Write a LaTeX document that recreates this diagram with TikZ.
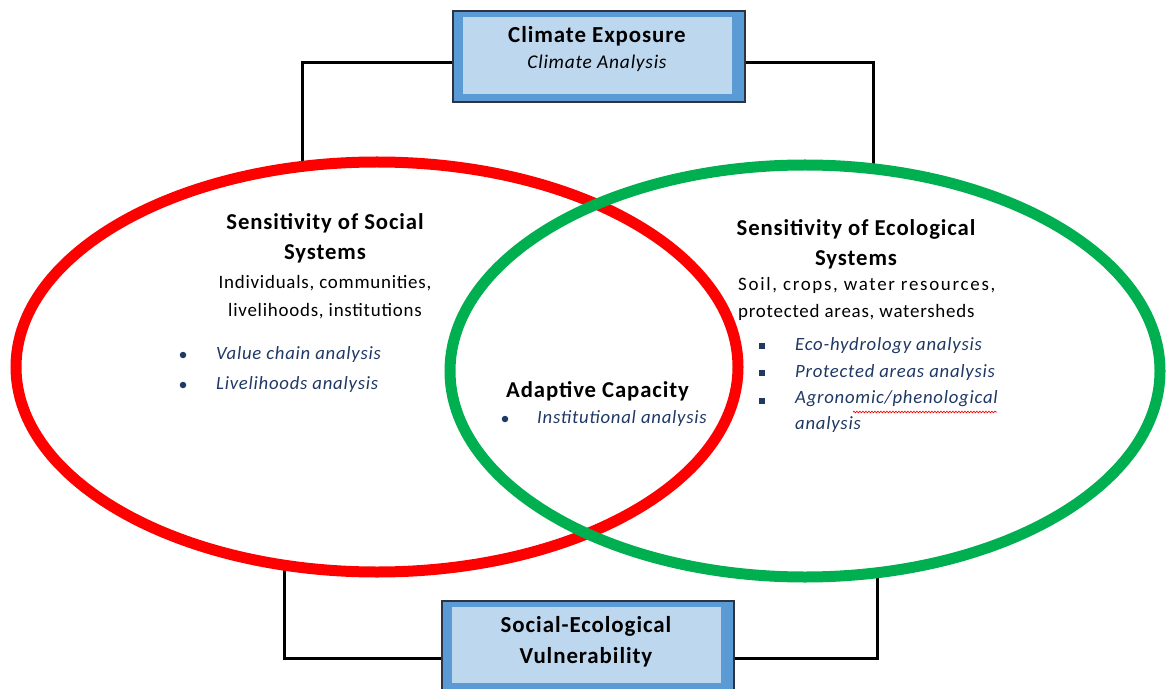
\documentclass[tikz,border=0pt]{standalone}
\usepackage{fontspec}
\setmainfont{Carlito}[LetterSpace=4]
\newfontfamily\widefont{Carlito}[LetterSpace=9]
\usetikzlibrary{shapes.geometric,calc,decorations.pathmorphing}
\definecolor{boxblue}{HTML}{5B9BD5}
\definecolor{boxlight}{HTML}{BDD7EE}
\definecolor{boxedge}{HTML}{2B3440}
\definecolor{socred}{HTML}{FF0000}
\definecolor{ecogreen}{HTML}{00B050}
\definecolor{navy}{HTML}{1F3864}
\tikzset{
  outerbox/.style={draw=boxedge, line width=1.3bp, fill=boxblue,
    minimum width=292bp, minimum height=91bp, inner sep=0pt},
  innerpanel/.style={fill=boxlight},
  conn/.style={draw=black, line width=3bp},
  ring/.style={ellipse, line width=11bp, inner sep=0pt},
  boxtitle/.style={font=\fontsize{23}{31}\selectfont\bfseries, align=center, inner sep=0pt},
  boxsub/.style={font=\fontsize{19.5}{26}\selectfont\itshape, inner sep=0pt},
  heading/.style={font=\fontsize{22.8}{30}\selectfont\bfseries, align=center, inner sep=0pt},
  bodytext/.style={font=\fontsize{19}{28}\selectfont, inner sep=0pt},
  itemtext/.style={font=\fontsize{18.8}{26.5}\selectfont\itshape, text=navy, anchor=west, inner sep=0pt},
  dotbullet/.style={circle, fill=navy, inner sep=0pt, minimum size=6.5bp},
  sqbullet/.style={rectangle, fill=navy, inner sep=0pt, minimum size=6bp},
}
\begin{document}
\begin{tikzpicture}[x=1bp, y=-1bp]
\useasboundingbox (0,0) rectangle (1168,689);

% framed boxes
\node[outerbox] (exp) at (599,56.5) {};
\fill[innerpanel] ($(exp.north west)+(11,7)$) rectangle ($(exp.south east)+(-14,-9)$);
\node[outerbox] (vul) at (588,646.5) {};
\fill[innerpanel] ($(vul.north west)+(11,7)$) rectangle ($(vul.south east)+(-14,-10)$);

% connector end points on the two rings
\coordinate (tl) at (302,172);
\coordinate (tr) at (873,172);
\coordinate (bl) at (284,562);
\coordinate (br) at (877,568);

% connectors
\draw[conn] ($(exp.west)+(0,6.5)$) -| (tl);
\draw[conn] ($(exp.east)+(0,6.5)$) -| (tr);
\draw[conn] ($(vul.west)+(0,11.5)$) -| (bl);
\draw[conn] ($(vul.east)+(0,11.5)$) -| (br);

% the two systems
\node[ring, draw=socred, minimum width=722bp, minimum height=410bp] (soc) at (377,367) {};
\node[ring, draw=ecogreen, minimum width=710bp, minimum height=412bp] (eco) at (805,371) {};

% box texts
\node[boxtitle] (expt) at (597,36) {Climate Exposure};
\node[boxsub] (exps) at (597,63) {Climate Analysis};
\node[boxtitle] (vult) at (586,641.5) {Social-Ecological\\Vulnerability};

% social systems
\node[heading] (soch) at (325,238.5) {Sensitivity of Social\\Systems};
\node[bodytext, align=center] (socb) at (325,297) {Individuals, communities,\\livelihoods, institutions};
\node[dotbullet] (sb1) at (183,355) {};
\node[itemtext] (si1) at (216,355) {Value chain analysis};
\node[dotbullet] (sb2) at (183,385) {};
\node[itemtext] (si2) at (216,385) {Livelihoods analysis};

% ecological systems
\node[heading] (ecoh) at (856,244) {Sensitivity of Ecological\\Systems};
\node[bodytext, align=left, anchor=west] (ecob) at (738,299) {{\widefont Soil, crops, water resources,}\\protected areas, watersheds};
\node[sqbullet] (eb1) at (762,346) {};
\node[itemtext] (ei1) at (795,346) {Eco-hydrology analysis};
\node[sqbullet] (eb2) at (762,373) {};
\node[itemtext] (ei2) at (795,373) {Protected areas analysis};
\node[sqbullet] (eb3) at (762,401) {};
\node[itemtext, align=left, anchor=north west] (ei3) at (795,390) {Agronomic/phenological\\analysis};
\draw[socred, line width=0.7bp, decorate,
  decoration={snake, segment length=3bp, amplitude=0.8bp}]
  (853,412) -- (997,412);

% overlap
\node[heading] (adh) at (597.5,391) {Adaptive Capacity};
\node[dotbullet] (ab1) at (505,419) {};
\node[itemtext] (ai1) at (537,419) {Institutional analysis};
\end{tikzpicture}
\end{document}
